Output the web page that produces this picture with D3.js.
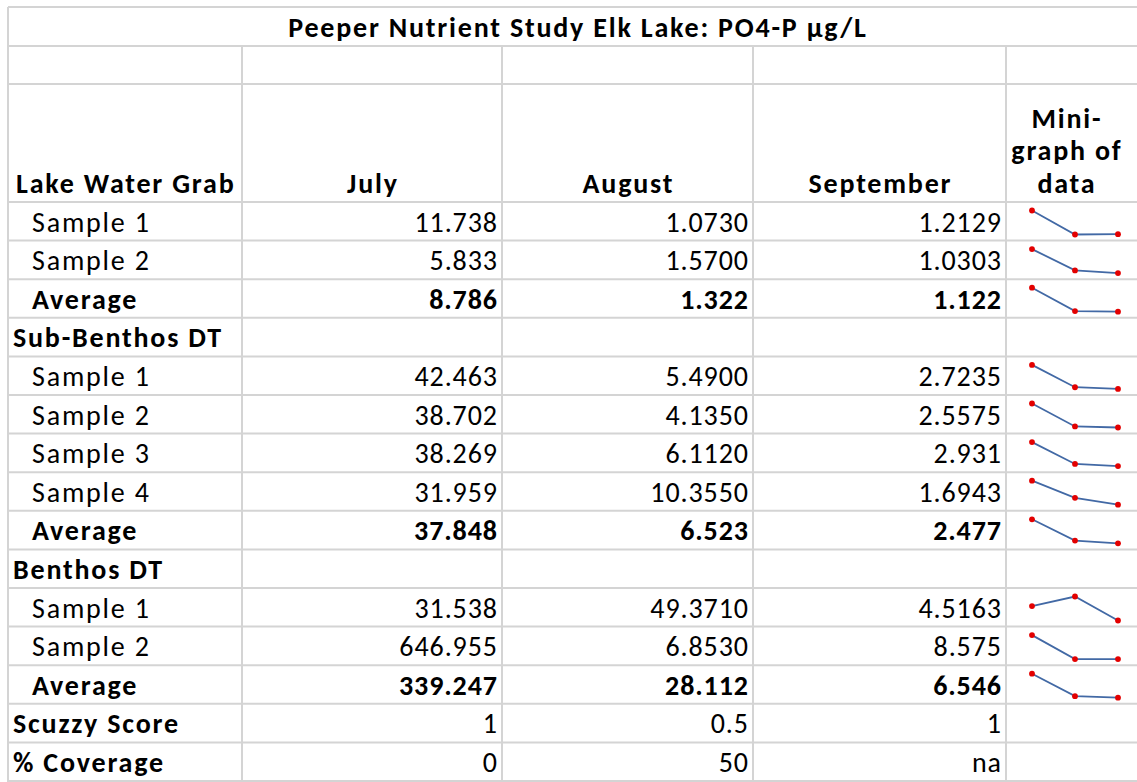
<!DOCTYPE html>
<html>
<head>
<meta charset="utf-8">
<script src="https://cdn.jsdelivr.net/npm/d3@7.9.0/dist/d3.min.js"></script>
<style>
  html, body { margin: 0; padding: 0; background: #fff; }
  svg { display: block; }
  text { font-family: Carlito, Calibri, Lato, sans-serif; fill: #000; }
</style>
</head>
<body>
<svg id="sheet" width="1137" height="782"></svg>
<script>
// table data
const title = "Peeper Nutrient Study Elk Lake: PO4-P \u00b5g/L";
const firstHeader = "Lake Water Grab";
const months = ["July", "August", "September"];
const graphHeader = ["Mini-", "graph of", "data"];

const rowLabels = [
  "Sample 1", "Sample 2", "Average",
  "Sub-Benthos DT", "Sample 1", "Sample 2", "Sample 3", "Sample 4", "Average",
  "Benthos DT", "Sample 1", "Sample 2", "Average",
  "Scuzzy Score", "% Coverage"
];
// sample / average / group / score
const rowKinds = [
  "sample", "sample", "average",
  "group", "sample", "sample", "sample", "sample", "average",
  "group", "sample", "sample", "average",
  "score", "score"
];

const julyValues = ["11.738", "5.833", "8.786", "", "42.463", "38.702", "38.269", "31.959", "37.848", "", "31.538", "646.955", "339.247", "1", "0"];
const augustValues = ["1.0730", "1.5700", "1.322", "", "5.4900", "4.1350", "6.1120", "10.3550", "6.523", "", "49.3710", "6.8530", "28.112", "0.5", "50"];
const septemberValues = ["1.2129", "1.0303", "1.122", "", "2.7235", "2.5575", "2.931", "1.6943", "2.477", "", "4.5163", "8.575", "6.546", "1", "na"];

const columns = [julyValues, augustValues, septemberValues];

// layout
const colEdges = [8, 242, 502, 753, 1006, 1146];
const tableTop = 7, titleBottom = 46, blankBottom = 84, headerBottom = 202, tableBottom = 781;
const fontSize = 28;
const wordSpacing = 1.8;   // letter-spacing for words
const numSpacing = 0.9;    // letter-spacing for numbers
const gridColor = "#d4d4d4";

const svg = d3.select("#sheet");

const y = d3.scaleBand()
  .domain(d3.range(rowLabels.length))
  .range([headerBottom, tableBottom])
  .padding(0);

const grid = svg.append("g").attr("class", "grid");

// horizontal lines
const hLines = [tableTop, titleBottom, blankBottom, headerBottom]
  .concat(d3.range(rowLabels.length).map(i => y(i) + y.bandwidth()));
grid.selectAll("line.h")
  .data(hLines)
  .join("line")
  .attr("class", "h")
  .attr("x1", colEdges[0]).attr("x2", colEdges[colEdges.length - 1])
  .attr("y1", d => d).attr("y2", d => d)
  .attr("stroke", gridColor).attr("stroke-width", 2);

// vertical lines (title row is merged)
grid.selectAll("line.v")
  .data(colEdges)
  .join("line")
  .attr("class", "v")
  .attr("x1", d => d).attr("x2", d => d)
  .attr("y1", (d, i) => (i === 0 || i === colEdges.length - 1) ? tableTop : titleBottom)
  .attr("y2", tableBottom + 2)
  .attr("stroke", gridColor).attr("stroke-width", 2);

// title
svg.append("text")
  .attr("x", (colEdges[0] + colEdges[colEdges.length - 1]) / 2 + wordSpacing / 2)
  .attr("y", 37)
  .attr("text-anchor", "middle")
  .attr("font-size", fontSize)
  .attr("font-weight", "bold")
  .attr("letter-spacing", wordSpacing)
  .text(title);

// header row
svg.append("text")
  .attr("x", colEdges[0] + 8)
  .attr("y", 193)
  .attr("font-size", fontSize)
  .attr("font-weight", "bold")
  .attr("letter-spacing", wordSpacing)
  .text(firstHeader);

svg.selectAll("text.month")
  .data(months)
  .join("text")
  .attr("class", "month")
  .attr("x", (d, i) => (colEdges[i + 1] + colEdges[i + 2]) / 2 + wordSpacing / 2)
  .attr("y", 193)
  .attr("text-anchor", "middle")
  .attr("font-size", fontSize)
  .attr("font-weight", "bold")
  .attr("letter-spacing", wordSpacing)
  .text(d => d);

svg.selectAll("text.graphhead")
  .data(graphHeader)
  .join("text")
  .attr("class", "graphhead")
  .attr("x", 1066 + wordSpacing / 2)
  .attr("y", (d, i) => 193 - (graphHeader.length - 1 - i) * 32.7)
  .attr("text-anchor", "middle")
  .attr("font-size", fontSize)
  .attr("font-weight", "bold")
  .attr("letter-spacing", wordSpacing)
  .text(d => d);

// row labels
const rows = svg.selectAll("g.row")
  .data(rowLabels)
  .join("g")
  .attr("class", "row")
  .attr("transform", (d, i) => `translate(0,${y(i)})`);

rows.append("text")
  .attr("x", (d, i) => (rowKinds[i] === "sample" || rowKinds[i] === "average") ? 32 : 13)
  .attr("y", 29.7)
  .attr("font-size", fontSize)
  .attr("font-weight", (d, i) => rowKinds[i] === "sample" ? "normal" : "bold")
  .attr("letter-spacing", wordSpacing)
  .text(d => d);

// month values, right aligned
columns.forEach((vals, c) => {
  rows.append("text")
    .attr("x", colEdges[c + 2] - 5 + numSpacing)
    .attr("y", 29.7)
    .attr("text-anchor", "end")
    .attr("font-size", fontSize)
    .attr("font-weight", (d, i) => rowKinds[i] === "average" ? "bold" : "normal")
    .attr("letter-spacing", numSpacing)
    .text((d, i) => vals[i]);
});

// sparklines
const sx = d3.scalePoint()
  .domain(months)
  .range([1032, 1118]);

const lineColor = "#4269a5";
const markColor = "#e30000";

rows.each(function (d, i) {
  if (rowKinds[i] !== "sample" && rowKinds[i] !== "average") return;
  const pts = months.map((m, c) => ({ month: m, value: parseFloat(columns[c][i]) }));
  const sy = d3.scaleLinear()
    .domain(d3.extent(pts, p => p.value))
    .range([32.5, 8.5]);
  const g = d3.select(this).append("g").attr("class", "spark");
  g.append("path")
    .attr("d", d3.line().x(p => sx(p.month)).y(p => sy(p.value))(pts))
    .attr("fill", "none")
    .attr("stroke", lineColor)
    .attr("stroke-width", 1.8);
  g.selectAll("circle")
    .data(pts)
    .join("circle")
    .attr("cx", p => sx(p.month))
    .attr("cy", p => sy(p.value))
    .attr("r", 2.9)
    .attr("fill", markColor);
});
</script>
</body>
</html>
